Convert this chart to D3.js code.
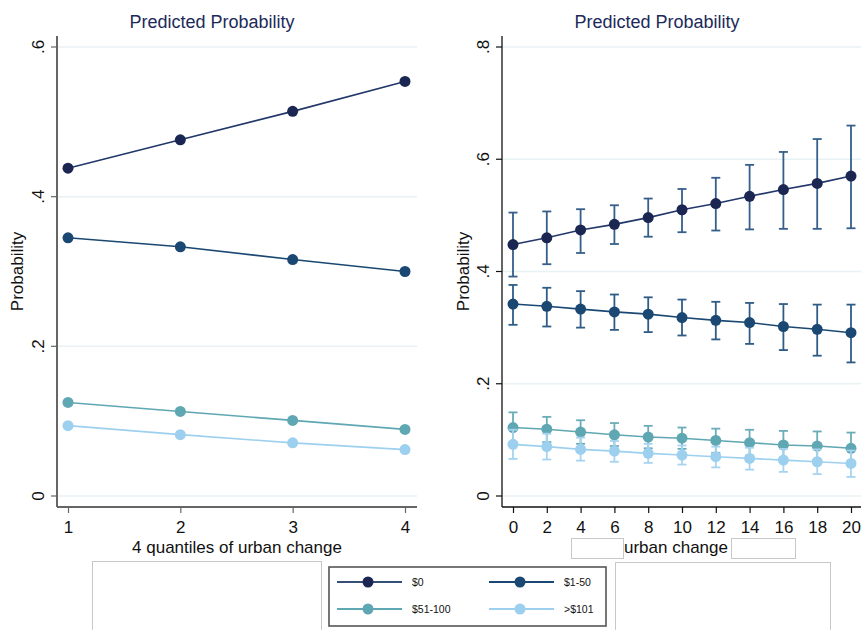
<!DOCTYPE html>
<html>
<head>
<meta charset="utf-8">
<script src="https://cdn.jsdelivr.net/npm/d3@7"></script>
<style>
  html, body { margin: 0; padding: 0; background: #fff; }
  svg { display: block; font-family: "Liberation Sans", Arial, Helvetica, sans-serif; }
</style>
</head>
<body>
<svg id="chart" width="861" height="630"></svg>
<script>
// Income groups shown in both panels
const groups = ["$0", "$1-50", "$51-100", ">$101"];
const groupColors = ["#1b2652", "#1a4872", "#5fa7b2", "#9dd0ef"];
const barColors = ["#355f8a", "#2f5c86", "#6aadb8", "#a6d4f0"];

// Left panel: quantiles of urban change
const quantiles = [1, 2, 3, 4];
const qProb0 = [0.438, 0.476, 0.514, 0.554];
const qProb1 = [0.345, 0.333, 0.316, 0.300];
const qProb2 = [0.125, 0.113, 0.101, 0.089];
const qProb3 = [0.094, 0.082, 0.071, 0.062];
const leftTicks = [0, 0.2, 0.4, 0.6];
const leftTickLabels = ["0", ".2", ".4", ".6"];

// Right panel: urban change with confidence intervals
const urban = [0, 2, 4, 6, 8, 10, 12, 14, 16, 18, 20];
const uProb0 = [0.448, 0.460, 0.474, 0.484, 0.496, 0.510, 0.521, 0.534, 0.546, 0.557, 0.570];
const uLo0   = [0.391, 0.413, 0.433, 0.449, 0.462, 0.470, 0.473, 0.475, 0.476, 0.476, 0.477];
const uHi0   = [0.505, 0.507, 0.511, 0.518, 0.530, 0.547, 0.567, 0.590, 0.613, 0.636, 0.660];
const uProb1 = [0.342, 0.338, 0.333, 0.328, 0.324, 0.318, 0.313, 0.309, 0.302, 0.297, 0.291];
const uLo1   = [0.305, 0.302, 0.300, 0.296, 0.292, 0.286, 0.279, 0.271, 0.260, 0.250, 0.238];
const uHi1   = [0.376, 0.371, 0.365, 0.359, 0.354, 0.350, 0.346, 0.344, 0.342, 0.341, 0.341];
const uProb2 = [0.122, 0.119, 0.114, 0.109, 0.105, 0.103, 0.099, 0.095, 0.091, 0.089, 0.085];
const uLo2   = [0.095, 0.096, 0.093, 0.089, 0.085, 0.084, 0.077, 0.072, 0.067, 0.064, 0.057];
const uHi2   = [0.149, 0.141, 0.135, 0.130, 0.125, 0.122, 0.120, 0.118, 0.116, 0.115, 0.113];
const uProb3 = [0.092, 0.088, 0.083, 0.080, 0.076, 0.073, 0.070, 0.067, 0.064, 0.061, 0.058];
const uLo3   = [0.066, 0.065, 0.063, 0.061, 0.059, 0.056, 0.051, 0.047, 0.043, 0.039, 0.034];
const uHi3   = [0.118, 0.111, 0.104, 0.098, 0.093, 0.090, 0.088, 0.086, 0.084, 0.083, 0.081];
const rightTicks = [0, 0.2, 0.4, 0.6, 0.8];
const rightTickLabels = ["0", ".2", ".4", ".6", ".8"];

const svg = d3.select("#chart");
const titleColor = "#1c2a5a";
const gridColor = "#e8f1f4";

function drawPanel(opt) {
  const g = svg.append("g");
  const x = d3.scaleLinear().domain(opt.xDomain).range(opt.xRange);
  const y = d3.scaleLinear().domain(opt.yDomain).range(opt.yRange);
  const left = opt.plotLeft, right = opt.plotRight, top = opt.plotTop, bottom = opt.plotBottom;

  // horizontal grid
  g.selectAll("line.grid").data(opt.yTicks).join("line")
    .attr("x1", left).attr("x2", right)
    .attr("y1", d => y(d)).attr("y2", d => y(d))
    .attr("stroke", gridColor).attr("stroke-width", 1.5);

  // y axis with vertical tick labels
  const yAxis = d3.axisLeft(y).tickValues(opt.yTicks)
    .tickFormat((d, i) => opt.yTickLabels[i]).tickSize(6).tickSizeOuter(0);
  const ya = g.append("g").attr("transform", `translate(${left},0)`).call(yAxis);
  ya.select(".domain").remove();
  ya.selectAll(".tick line").attr("stroke", opt.axisColor).attr("stroke-width", 1.2);
  ya.selectAll(".tick").each(function (d) {
    const t = d3.select(this);
    t.attr("transform", null);
    t.select("line").attr("y1", y(d)).attr("y2", y(d));
    t.select("text")
      .attr("transform", `translate(-13,${y(d)}) rotate(-90)`)
      .attr("x", 0).attr("y", 0).attr("dy", "0")
      .attr("text-anchor", "middle")
      .style("font-size", "17px").attr("fill", "#111");
  });
  g.append("line").attr("x1", left).attr("x2", left).attr("y1", top).attr("y2", bottom)
    .attr("stroke", opt.axisColor).attr("stroke-width", opt.axisWidth);

  // x axis
  const xAxis = d3.axisBottom(x).tickValues(opt.xTicks).tickFormat(d3.format("d"))
    .tickSize(6).tickSizeOuter(0);
  const xa = g.append("g").attr("transform", `translate(0,${bottom})`).call(xAxis);
  xa.select(".domain").remove();
  xa.selectAll(".tick line").attr("stroke", opt.axisColor).attr("stroke-width", 1.2);
  xa.selectAll(".tick text").style("font-size", "17px").attr("fill", "#111").attr("dy", "1.0em");
  g.append("line").attr("x1", left).attr("x2", right).attr("y1", bottom).attr("y2", bottom)
    .attr("stroke", opt.axisColor).attr("stroke-width", opt.axisWidth);

  // titles
  g.append("text").attr("x", opt.titleX).attr("y", 28).attr("text-anchor", "middle")
    .style("font-size", "18px").attr("fill", titleColor).text("Predicted Probability");
  g.append("text").attr("transform", `translate(${opt.yLabelX},${(top + bottom) / 2}) rotate(-90)`)
    .attr("text-anchor", "middle").style("font-size", "17px").attr("fill", "#111").text("Probability");
  g.append("text").attr("x", opt.xLabelX).attr("y", 553).attr("text-anchor", "middle")
    .style("font-size", "17px").attr("fill", "#111").text(opt.xLabel);

  // series: error bars, connecting line, markers
  const line = d3.line().x(d => x(d[0])).y(d => y(d[1]));
  opt.series.forEach((s, k) => {
    const pts = opt.xs.map((v, i) => [v, s.p[i]]);
    if (s.lo) {
      const eb = g.append("g").attr("stroke", barColors[k]).attr("stroke-width", 1.8);
      opt.xs.forEach((v, i) => {
        const cx = x(v);
        eb.append("line").attr("x1", cx).attr("x2", cx).attr("y1", y(s.lo[i])).attr("y2", y(s.hi[i]));
        eb.append("line").attr("x1", cx - 4.5).attr("x2", cx + 4.5).attr("y1", y(s.lo[i])).attr("y2", y(s.lo[i]));
        eb.append("line").attr("x1", cx - 4.5).attr("x2", cx + 4.5).attr("y1", y(s.hi[i])).attr("y2", y(s.hi[i]));
      });
    }
    g.append("path").datum(pts).attr("d", line).attr("fill", "none")
      .attr("stroke", k === 0 ? "#22386a" : groupColors[k]).attr("stroke-width", 1.6);
    g.selectAll(null).data(pts).join("circle")
      .attr("cx", d => x(d[0])).attr("cy", d => y(d[1])).attr("r", 5.5)
      .attr("fill", groupColors[k]);
  });
}

drawPanel({
  xDomain: [1, 4], xRange: [68, 405], xTicks: quantiles, xs: quantiles,
  yDomain: [0, 0.6], yRange: [496, 47], yTicks: leftTicks, yTickLabels: leftTickLabels,
  plotLeft: 57, plotRight: 417, plotTop: 36, plotBottom: 507,
  axisColor: "#666", axisWidth: 2,
  titleX: 212, yLabelX: 23, xLabelX: 237, xLabel: "4 quantiles of urban change",
  series: [
    { p: qProb0 }, { p: qProb1 }, { p: qProb2 }, { p: qProb3 }
  ]
});

drawPanel({
  xDomain: [0, 20], xRange: [513, 851], xTicks: urban, xs: urban,
  yDomain: [0, 0.8], yRange: [496, 47], yTicks: rightTicks, yTickLabels: rightTickLabels,
  plotLeft: 502, plotRight: 861, plotTop: 36, plotBottom: 507,
  axisColor: "#111", axisWidth: 1.3,
  titleX: 657, yLabelX: 469, xLabelX: 676, xLabel: "urban change",
  series: [
    { p: uProb0, lo: uLo0, hi: uHi0 },
    { p: uProb1, lo: uLo1, hi: uHi1 },
    { p: uProb2, lo: uLo2, hi: uHi2 },
    { p: uProb3, lo: uLo3, hi: uHi3 }
  ]
});

// empty frames flanking the right x-axis title
svg.append("rect").attr("x", 571.5).attr("y", 538.5).attr("width", 52).attr("height", 20)
  .attr("fill", "none").attr("stroke", "#c8c8c8");
svg.append("rect").attr("x", 731.5).attr("y", 538.5).attr("width", 64).attr("height", 20)
  .attr("fill", "none").attr("stroke", "#c8c8c8");

// empty frames beside the legend
svg.append("rect").attr("x", 92.5).attr("y", 561.5).attr("width", 229).attr("height", 80)
  .attr("fill", "none").attr("stroke", "#c8c8c8");
svg.append("rect").attr("x", 615.5).attr("y", 562.5).attr("width", 215).attr("height", 80)
  .attr("fill", "none").attr("stroke", "#c8c8c8");

// legend
const legend = svg.append("g");
legend.append("rect").attr("x", 329).attr("y", 567).attr("width", 277).attr("height", 59)
  .attr("fill", "#fff").attr("stroke", "#555").attr("stroke-width", 1.6);
const legX = d3.scalePoint().domain([0, 1]).range([337, 489]);
const legY = d3.scalePoint().domain([0, 1]).range([582, 609]);
groups.forEach((name, i) => {
  const col = i % 2, row = Math.floor(i / 2);
  const lx = legX(col), ly = legY(row);
  legend.append("line").attr("x1", lx).attr("x2", lx + 65).attr("y1", ly).attr("y2", ly)
    .attr("stroke", i === 0 ? "#34507a" : groupColors[i]).attr("stroke-width", 1.8);
  legend.append("circle").attr("cx", lx + 31).attr("cy", ly).attr("r", 5.5).attr("fill", groupColors[i]);
  legend.append("text").attr("x", lx + 75).attr("y", ly + 4).style("font-size", "10.5px")
    .attr("fill", "#111").text(name);
});
</script>
</body>
</html>
